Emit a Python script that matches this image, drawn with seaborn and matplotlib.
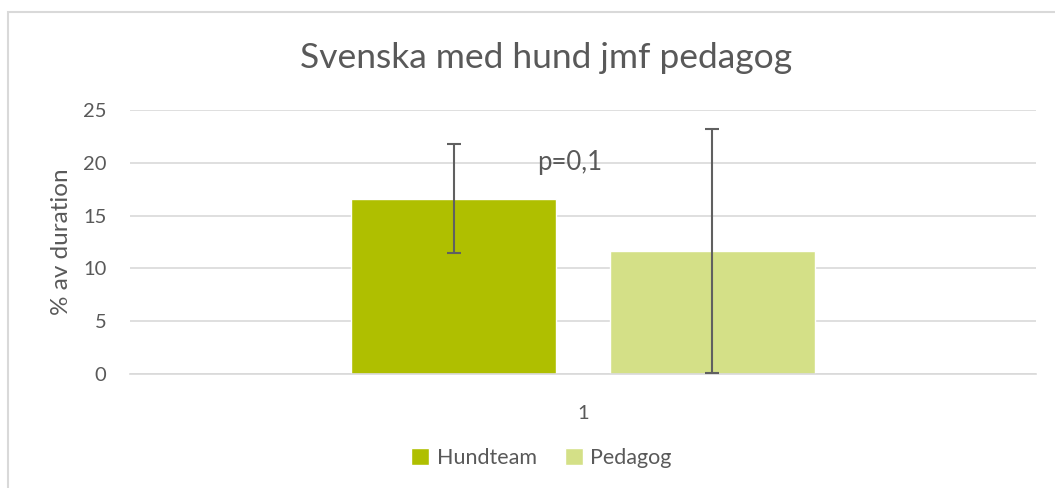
import pandas as pd
import matplotlib.pyplot as plt
import seaborn as sns
from matplotlib.patches import Rectangle, Patch

# --- Data ---
categories = ['1']
groups = ['Hundteam', 'Pedagog']
means = [16.6, 11.65]
errors = [5.15, 11.55]
colors = ['#afbf00', '#d4e087']
p_text = 'p=0,1'

df = pd.DataFrame({'Kategori': categories * len(groups),
                   'Grupp': groups,
                   'Varde': means})

sns.set_style('white')
plt.rcParams['font.family'] = ['Lato', 'DejaVu Sans']
text_col = '#595959'
grid_col = '#d9d9d9'

fig = plt.figure(figsize=(10.55, 4.88), dpi=100)
ax = fig.add_axes([0.1232, 0.2336, 0.8588, 0.541])

sns.barplot(data=df, x='Kategori', y='Varde', hue='Grupp', palette=colors,
            saturation=1, width=0.571, gap=0.21, errorbar=None, ax=ax,
            zorder=2, legend=False)

# Error bars at the centre of each bar
bars = [p for p in ax.patches if p.get_height() > 0]
for bar, err in zip(bars, errors):
    cx = bar.get_x() + bar.get_width() / 2
    ax.errorbar(cx, bar.get_height(), yerr=err, color='#606060', elinewidth=1.5,
                capsize=5, capthick=1.5, zorder=3)

ax.set_xlim(-0.5, 0.5)
ax.set_ylim(0, 25)
ax.set_yticks([0, 5, 10, 15, 20, 25])
ax.yaxis.grid(True, color=grid_col, linewidth=1.2, zorder=0)
ax.set_axisbelow(True)
for side in ['top', 'right', 'left']:
    ax.spines[side].set_visible(False)
ax.spines['bottom'].set_color(grid_col)
ax.spines['bottom'].set_linewidth(1.2)
ax.tick_params(axis='both', length=0, labelsize=14.5, colors=text_col)
ax.tick_params(axis='y', pad=17)
ax.tick_params(axis='x', pad=22)

ax.set_xlabel('')
ax.set_ylabel('% av duration', fontsize=17.5, color=text_col, labelpad=8)

ax.text(-0.015, 20.0, p_text, ha='center', va='center', fontsize=18.5, color=text_col)

fig.text(0.5175, 0.882, 'Svenska med hund jmf pedagog', ha='center', va='center',
         fontsize=25.5, color=text_col)

handles = [Patch(facecolor=c, label=g) for g, c in zip(groups, colors)]
fig.legend(handles=handles, loc='center', bbox_to_anchor=(0.513, 0.061), ncol=2,
           frameon=False, fontsize=15.5, labelcolor=text_col, handlelength=0.85,
           handleheight=0.85, handletextpad=0.35, columnspacing=1.3)

# Light chart border as in the source image
fig.patches.append(Rectangle((8 / 1055, -0.1), 1.2, 0.1 + 1 - 12 / 488,
                             transform=fig.transFigure, fill=False,
                             edgecolor=grid_col, linewidth=1.5, clip_on=False))

fig.savefig('out.png', dpi=100)
